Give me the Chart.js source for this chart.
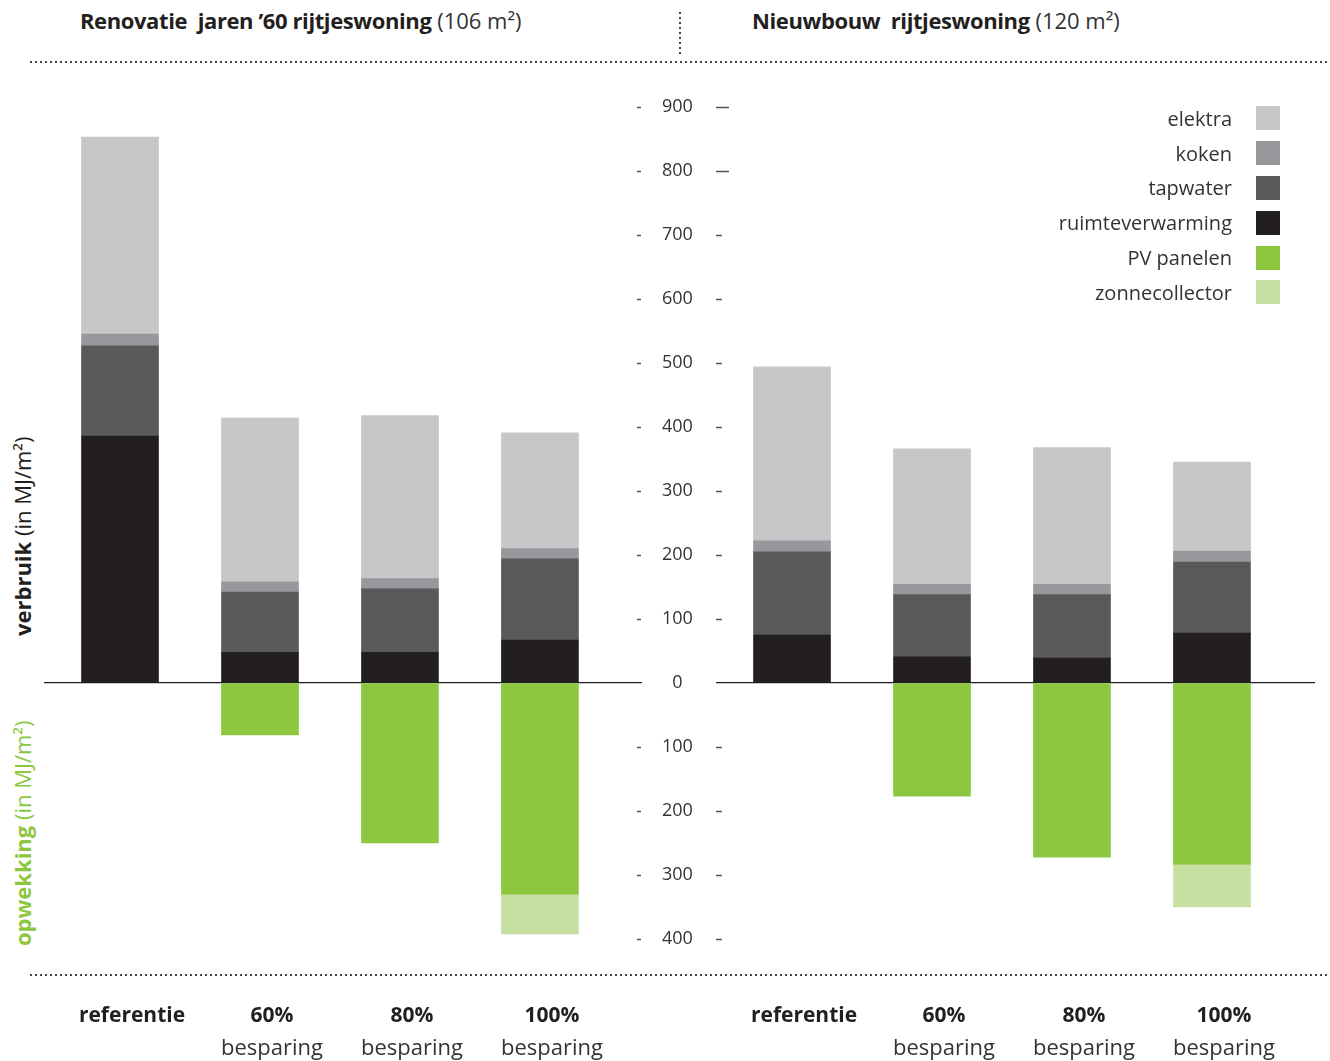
<!DOCTYPE html>
<html>
<head>
<meta charset="utf-8">
<script src="https://cdn.jsdelivr.net/npm/chart.js@4.4.0/dist/chart.umd.min.js"></script>
<style>
  body { margin: 0; background: #fff; font-family: "Open Sans", sans-serif; color: #231f20; }
  #wrap { position: relative; width: 1330px; height: 1061px; overflow: hidden; }
  canvas { position: absolute; top: 0; }
  .title { position: absolute; top: 5px; font-size: 22px; white-space: nowrap; }
  .title b { font-weight: 700; letter-spacing: -0.4px; }
  .title span { font-weight: 400; color: #333; }
  .dots-h { position: absolute; left: 30px; width: 1300px; height: 2px;
    background: repeating-linear-gradient(to right, #444 0 2px, transparent 2px 5px); }
  .dots-v { position: absolute; left: 679px; top: 12px; width: 2px; height: 44px;
    background: repeating-linear-gradient(to bottom, #444 0 2px, transparent 2px 5px); }
  .side { position: absolute; transform: rotate(-90deg); transform-origin: left top;
    white-space: nowrap; font-size: 22px; line-height: 28px; }
  .side b { font-weight: 700; }
  .side span { font-weight: 400; }
  #legend { position: absolute; right: 50px; top: 101px; }
  #legend div { display: flex; justify-content: flex-end; align-items: center; height: 34.8px;
    font-size: 20px; color: #333; }
  #legend i { display: inline-block; width: 24px; height: 24px; margin-left: 24px; }
</style>
</head>
<body>
<div id="wrap">
  <div class="title" style="left:80px"><b>Renovatie&nbsp; jaren ’60 rijtjeswoning</b> <span>(106 m²)</span></div>
  <div class="title" style="left:752px"><b>Nieuwbouw&nbsp; rijtjeswoning</b> <span>(120 m²)</span></div>
  <div class="dots-v"></div>
  <div class="dots-h" style="top:61px"></div>
  <div class="dots-h" style="top:974px"></div>
  <div class="side" style="left:8px; top:636px;"><b>verbruik</b> <span>(in MJ/m²)</span></div>
  <div class="side" style="left:8px; top:946px; color:#8dc63f;"><b>opwekking</b> <span>(in MJ/m²)</span></div>
  <canvas id="renovatie" width="740" height="1061" style="left:0"></canvas>
  <canvas id="nieuwbouw" width="614" height="1061" style="left:716px"></canvas>
  <div id="legend"></div>
</div>
<script>
const categories = [['referentie'], ['60%', 'besparing'], ['80%', 'besparing'], ['100%', 'besparing']];
const seriesNames = ['ruimteverwarming', 'tapwater', 'koken', 'elektra', 'PV panelen', 'zonnecollector'];
const seriesColors = ['#231f20', '#58595b', '#97989b', '#c6c7c9', '#8dc63f', '#c5e0a0'];
const legendOrder = ['elektra', 'koken', 'tapwater', 'ruimteverwarming', 'PV panelen', 'zonnecollector'];
const yTicks = [900, 800, 700, 600, 500, 400, 300, 200, 100, 0, -100, -200, -300, -400];

// renovatie jaren '60 (MJ/m2), opwekking negatief
const renRuimte  = [386, 48, 48, 67];
const renTap     = [141, 94, 99, 127];
const renKoken   = [18, 16, 16, 16];
const renElektra = [308, 256, 255, 181];
const renPV      = [null, -81, -250, -330];
const renZonne   = [null, null, null, -62];

// nieuwbouw
const nwRuimte  = [75, 41, 39, 78];
const nwTap     = [130, 97, 99, 111];
const nwKoken   = [17, 16, 16, 17];
const nwElektra = [272, 212, 214, 139];
const nwPV      = [null, -177, -272, -283];
const nwZonne   = [null, null, null, -67];

function makeDatasets(series) {
  return series.map((vals, k) => ({
    label: seriesNames[k],
    data: vals.map((v, i) => ({ x: i, y: v })),
    backgroundColor: seriesColors[k],
    borderWidth: 0,
    barThickness: 77
  }));
}

const catLabels = {
  id: 'catLabels',
  afterDraw(chart) {
    const { ctx, scales: { x } } = chart;
    ctx.save();
    ctx.textAlign = 'center';
    ctx.textBaseline = 'middle';
    categories.forEach((c, i) => {
      const px = x.getPixelForValue(i) + 12;
      ctx.fillStyle = '#231f20';
      ctx.font = 'bold 21px "Open Sans"';
      ctx.fillText(c[0], px, 1016);
      if (c[1]) {
        ctx.fillStyle = '#333';
        ctx.font = '22px "Open Sans"';
        ctx.fillText(c[1], px, 1049);
      }
    });
    ctx.restore();
  }
};

const tickDashes = {
  id: 'tickDashes',
  afterDraw(chart) {
    const { ctx, chartArea, scales: { y } } = chart;
    ctx.save();
    ctx.strokeStyle = '#555';
    ctx.lineWidth = 1.5;
    yTicks.forEach(v => {
      if (v === 0) return;
      const py = Math.round(y.getPixelForValue(v)) + 0.5;
      ctx.beginPath();
      ctx.moveTo(chartArea.right - 5, py);
      ctx.lineTo(chartArea.right - 1, py);
      ctx.moveTo(chartArea.right + 74, py);
      ctx.lineTo(chartArea.right + (v >= 800 ? 87 : 80), py);
      ctx.stroke();
    });
    ctx.restore();
  }
};

function makeOptions(showTicks, padding) {
  return {
    responsive: false,
    animation: false,
    layout: { padding: padding },
    plugins: { legend: { display: false }, tooltip: { enabled: false } },
    scales: {
      x: { type: 'linear', offset: false, min: -0.543, max: showTicks ? 3.729 : 3.736, stacked: true, display: false },
      y: {
        stacked: true,
        min: -400,
        max: 900,
        position: showTicks ? 'right' : 'left',
        afterFit: s => { s.width = showTicks ? 74 : 0; },
        afterBuildTicks: s => { s.ticks = yTicks.map(v => ({ value: v })); },
        border: { display: false },
        grid: {
          drawTicks: false,
          lineWidth: 1.2,
          color: c => (c.tick && c.tick.value === 0) ? '#231f20' : 'rgba(0,0,0,0)'
        },
        ticks: {
          display: showTicks,
          crossAlign: 'center',
          padding: 20,
          color: '#333',
          font: { family: 'Open Sans', size: 18 },
          callback: v => String(Math.abs(v))
        }
      }
    }
  };
}

new Chart(document.getElementById('renovatie'), {
  type: 'bar',
  data: { datasets: makeDatasets([renRuimte, renTap, renKoken, renElektra, renPV, renZonne]) },
  options: makeOptions(true, { left: 44, right: 24, top: 107, bottom: 122 }),
  plugins: [catLabels, tickDashes]
});

new Chart(document.getElementById('nieuwbouw'), {
  type: 'bar',
  data: { datasets: makeDatasets([nwRuimte, nwTap, nwKoken, nwElektra, nwPV, nwZonne]) },
  options: makeOptions(false, { left: 0, right: 15, top: 107, bottom: 122 }),
  plugins: [catLabels]
});

const legend = document.getElementById('legend');
legendOrder.forEach(name => {
  const row = document.createElement('div');
  row.innerHTML = name + '<i style="background:' + seriesColors[seriesNames.indexOf(name)] + '"></i>';
  legend.appendChild(row);
});
</script>
</body>
</html>
